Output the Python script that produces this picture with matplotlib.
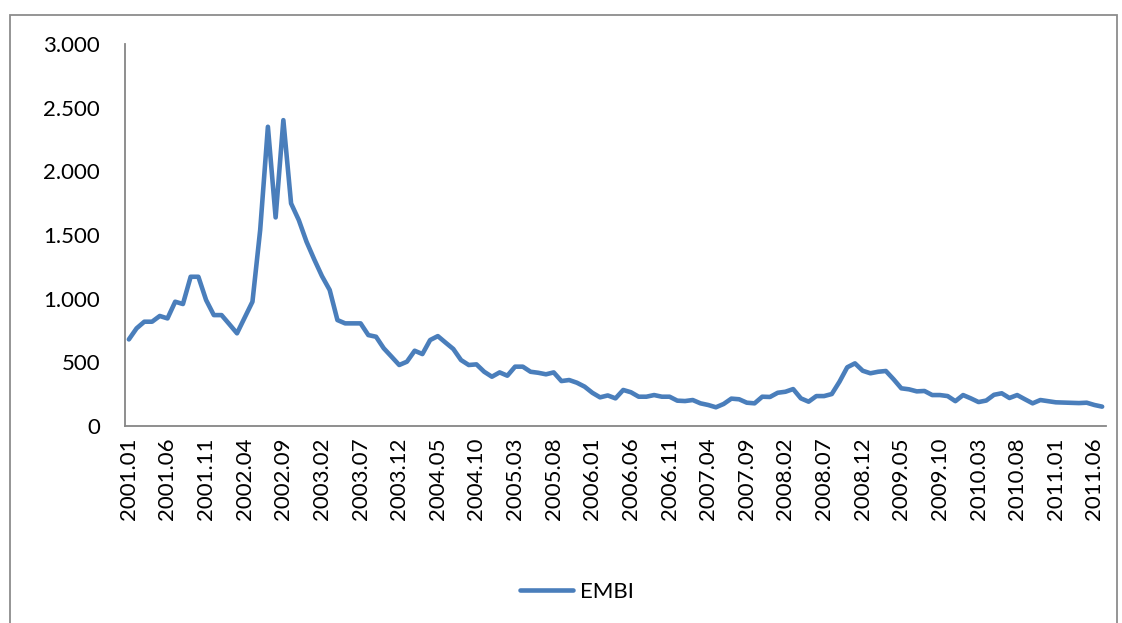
import matplotlib
matplotlib.use('Agg')
import matplotlib.pyplot as plt
from matplotlib.patches import Rectangle
from matplotlib.ticker import FuncFormatter

plt.rcParams['font.family'] = ['Lato', 'DejaVu Sans']

# monthly EMBI spread, 2001.01 - 2011.07
months = [f'{y}.{m:02d}' for y in range(2001, 2012) for m in range(1, 13)][:127]
embi = [
    680, 767, 819, 819, 864, 845, 976, 958, 1172, 1172,
    989, 871, 871, 800, 728, 852, 976, 1539, 2350, 1638,
    2402, 1748, 1617, 1447, 1308, 1177, 1068, 832, 806, 806,
    806, 714, 701, 610, 545, 479, 505, 591, 565, 675,
    706, 655, 605, 518, 479, 484, 426, 387, 421, 395,
    466, 466, 426, 418, 406, 421, 353, 361, 340, 309,
    261, 225, 240, 217, 283, 265, 230, 230, 243, 230,
    230, 199, 196, 204, 178, 165, 147, 173, 215, 210,
    183, 178, 230, 228, 261, 269, 290, 217, 191, 235,
    235, 251, 348, 461, 492, 434, 414, 426, 432, 367,
    296, 288, 272, 275, 243, 243, 235, 195, 243, 217,
    188, 200, 245, 257, 220, 243, 210, 178, 204, 195,
    186, 184, 182, 180, 183, 165, 152,
]
tick_idx = list(range(0, len(months), 5))
y_ticks = [0, 500, 1000, 1500, 2000, 2500, 3000]

W, H = 1122, 623
fig = plt.figure(figsize=(W / 100, H / 100), dpi=100)
ax = fig.add_axes([125 / W, 1 - 426 / H, (1106 - 125) / W, (426 - 44) / H])

x = list(range(len(embi)))
ax.plot(x, embi, color='#4A7EBB', lw=3.3, solid_joinstyle='round',
        solid_capstyle='round', label='EMBI')

ax.set_xlim(-0.5, len(months) - 0.5)
ax.set_ylim(0, 3000)
ax.set_yticks(y_ticks)
ax.yaxis.set_major_formatter(FuncFormatter(lambda v, p: f'{int(v):,}'.replace(',', '.')))
ax.set_xticks(tick_idx)
ax.set_xticklabels([months[i] for i in tick_idx], rotation=90)

ax.tick_params(axis='both', length=0, labelsize=16, colors='black')
ax.tick_params(axis='y', pad=18)
ax.tick_params(axis='x', pad=8)
for side in ['top', 'right']:
    ax.spines[side].set_visible(False)
for side in ['left', 'bottom']:
    ax.spines[side].set_color('#868686')
    ax.spines[side].set_linewidth(1.3)

fig.legend(loc='center', bbox_to_anchor=(577 / W, 1 - 592 / H), frameon=False,
           fontsize=16, handlelength=2.4, handletextpad=0.3)

# chart border
fig.add_artist(Rectangle((10 / W, -0.1), (1117 - 10) / W, 1.1 - 15 / H,
                         transform=fig.transFigure, fill=False,
                         edgecolor='#8c8c8c', lw=1.3))

fig.savefig('out.png', dpi=100)
